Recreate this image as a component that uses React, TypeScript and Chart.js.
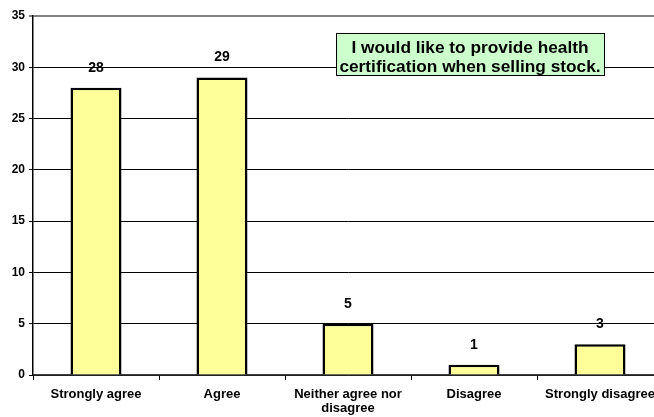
import React, { useEffect, useRef } from "react";
import { Chart, registerables } from "chart.js";

Chart.register(...registerables);

const categories: (string | string[])[] = [
  "Strongly agree",
  "Agree",
  ["Neither agree nor", "disagree"],
  "Disagree",
  "Strongly disagree",
];
const responses: number[] = [28, 29, 5, 1, 3];
const titleLines: string[] = ["I would like to provide health", "certification when selling stock."];
const yMax = 35;
const yStep = 5;

const FONT = "'Liberation Sans', Arial, sans-serif";

const valueLabels = {
  id: "valueLabels",
  afterDatasetsDraw(chart: any) {
    const ctx = chart.ctx;
    const meta = chart.getDatasetMeta(0);
    ctx.save();
    ctx.font = `bold 14px ${FONT}`;
    ctx.fillStyle = "#000";
    ctx.textAlign = "center";
    ctx.textBaseline = "middle";
    meta.data.forEach((bar: any, i: number) => {
      ctx.fillText(String(responses[i]), bar.x, bar.y - 20);
    });
    ctx.restore();
  },
};

const titleBox = {
  id: "titleBox",
  afterDraw(chart: any) {
    const ctx = chart.ctx;
    const x = 336, y = 33, w = 268, h = 42;
    ctx.save();
    ctx.fillStyle = "#CCFFCC";
    ctx.fillRect(x, y, w, h);
    ctx.strokeStyle = "#000";
    ctx.lineWidth = 1;
    ctx.strokeRect(x + 0.5, y + 0.5, w, h);
    ctx.font = `bold 17.3px ${FONT}`;
    ctx.fillStyle = "#000";
    ctx.textAlign = "center";
    ctx.textBaseline = "middle";
    ctx.fillText(titleLines[0], x + w / 2, y + 15);
    ctx.fillText(titleLines[1], x + w / 2, y + 34);
    ctx.restore();
  },
};

export default function App() {
  const ref = useRef<HTMLCanvasElement | null>(null);
  useEffect(() => {
    if (!ref.current) return;
    const chart = new Chart(ref.current, {
      type: "bar",
      data: {
        labels: categories,
        datasets: [
          {
            data: responses,
            backgroundColor: "#FFFF99",
            borderColor: "#000",
            borderWidth: 2.5,
            barPercentage: 0.405,
            categoryPercentage: 1,
          },
        ],
      },
      options: {
        animation: false,
        responsive: true,
        maintainAspectRatio: false,
        layout: { padding: { top: 16, right: 17, left: 0, bottom: 0 } },
        plugins: { legend: { display: false }, tooltip: { enabled: false }, title: { display: false } },
        scales: {
          x: {
            afterFit: (s: any) => { s.height = 42; },
            grid: { drawOnChartArea: false, drawTicks: true, tickLength: 5, color: "#000", offset: true },
            border: { display: true, color: "#404040", width: 1.5 },
            ticks: { color: "#000", font: { family: FONT, size: 13, weight: "bold", lineHeight: 1.1 }, padding: 7, maxRotation: 0, autoSkip: false },
          },
          y: {
            min: 0,
            max: yMax,
            afterFit: (s: any) => { s.width = 33; },
            grid: {
              color: (c: any) => (c.tick && c.tick.value === yMax ? "#808080" : "#000"),
              lineWidth: (c: any) => (c.tick && c.tick.value === yMax ? 2 : 1),
              drawTicks: true,
              tickLength: 4,
            },
            border: { display: true, color: "#000", width: 1.5 },
            ticks: { stepSize: yStep, color: "#000", font: { family: FONT, size: 12, weight: "bold" }, padding: 4 },
          },
        },
      },
      plugins: [valueLabels, titleBox],
    });
    return () => chart.destroy();
  }, []);
  return (
    <div style={{ position: "fixed", left: 0, top: 0, width: 654, height: 417, overflow: "hidden", background: "#fff" }}>
      <div style={{ position: "relative", width: 680, height: 417 }}>
        <canvas ref={ref} />
      </div>
    </div>
  );
}
